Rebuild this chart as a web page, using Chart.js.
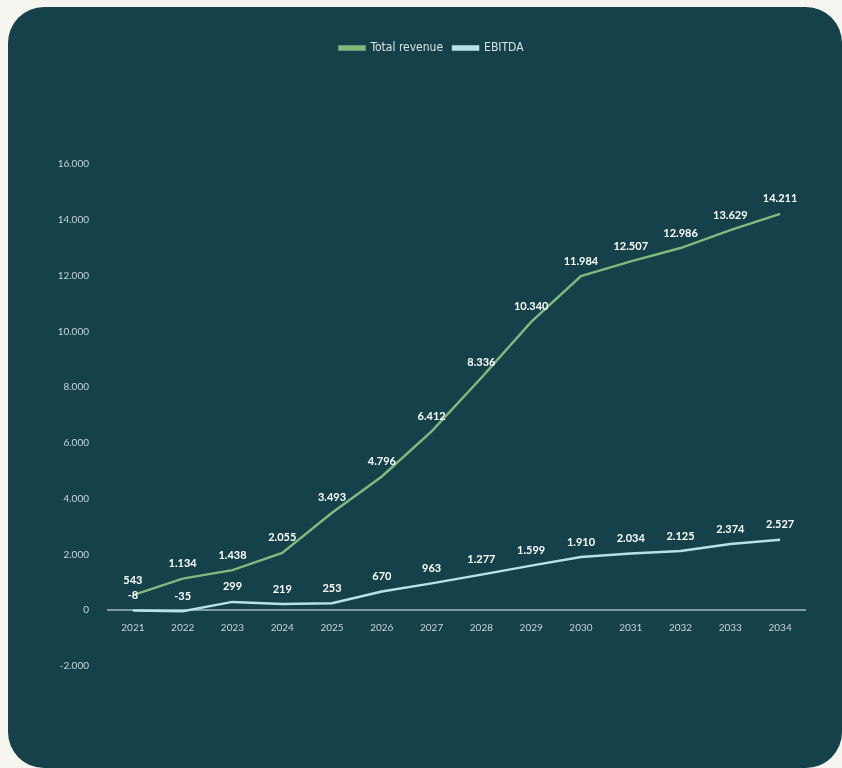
<!DOCTYPE html>
<html>
<head>
<meta charset="utf-8">
<script src="https://cdn.jsdelivr.net/npm/chart.js@4.4.1/dist/chart.umd.min.js"></script>
<style>
  html, body { margin: 0; padding: 0; background: #f6f4ee; }
  body { width: 842px; height: 768px; position: relative; overflow: hidden; }
  #card { position: absolute; left: 8px; top: 7px; width: 834px; height: 761px; background: #15414b; border-radius: 36px; }
  #wrap { position: absolute; left: 0; top: 0; width: 842px; height: 768px; }
</style>
</head>
<body>
<div id="card"></div>
<div id="wrap"><canvas id="lineChart"></canvas></div>
<script>
var years = ['2021', '2022', '2023', '2024', '2025', '2026', '2027', '2028', '2029', '2030', '2031', '2032', '2033', '2034'];
var totalRevenue = [543, 1134, 1438, 2055, 3493, 4796, 6412, 8336, 10340, 11984, 12507, 12986, 13629, 14211];
var ebitda = [-8, -35, 299, 219, 253, 670, 963, 1277, 1599, 1910, 2034, 2125, 2374, 2527];

function fmt(v) {
    var s = String(Math.abs(v)).replace(/\B(?=(\d{3})+(?!\d))/g, '.');
    return (v < 0 ? '-' : '') + s;
}

// push the plot down below the legend
var legendGap = {
    id: 'legendGap',
    beforeInit: function (chart) {
        var orig = chart.legend.fit;
        chart.legend.fit = function () {
            orig.bind(chart.legend)();
            this.height += 100;
        };
    }
};

// value labels above each point
var valueLabels = {
    id: 'valueLabels',
    afterDatasetsDraw: function (chart) {
        var ctx = chart.ctx;
        ctx.save();
        ctx.font = 'bold 11px Lato, "Open Sans", sans-serif';
        ctx.fillStyle = '#ffffff';
        ctx.textAlign = 'center';
        ctx.textBaseline = 'middle';
        chart.data.datasets.forEach(function (ds, i) {
            var meta = chart.getDatasetMeta(i);
            meta.data.forEach(function (pt, j) {
                ctx.fillText(fmt(ds.data[j]), pt.x, pt.y - 15);
            });
        });
        ctx.restore();
    }
};

var lineChart = new Chart('lineChart', {
    type: 'line',
    data: {
        labels: years,
        datasets: [{
            label: 'Total revenue',
            data: totalRevenue,
            borderColor: '#7fba7c',
            backgroundColor: '#7fba7c',
            borderWidth: 2.5,
            pointRadius: 0,
            tension: 0
        }, {
            label: 'EBITDA',
            data: ebitda,
            borderColor: '#b6e2ee',
            backgroundColor: '#b6e2ee',
            borderWidth: 2.5,
            pointRadius: 0,
            tension: 0
        }]
    },
    options: {
        responsive: true,
        maintainAspectRatio: false,
        animation: false,
        layout: {
            padding: { left: 58, right: 37, top: 32, bottom: 102 }
        },
        scales: {
            x: {
                position: { y: 0 },
                offset: true,
                grid: { display: false },
                border: { display: true, color: '#7f9ca2', width: 2 },
                ticks: {
                    color: '#c9d6d9',
                    padding: 4,
                    maxRotation: 0,
                    font: { family: 'Lato, "Open Sans", sans-serif', size: 10 }
                }
            },
            y: {
                min: -2000,
                max: 16000,
                grid: { display: false },
                border: { display: false },
                afterFit: function (scale) { scale.width = 50; },
                ticks: {
                    stepSize: 2000,
                    color: '#c9d6d9',
                    padding: 11,
                    font: { family: 'Lato, "Open Sans", sans-serif', size: 10 },
                    callback: function (v) { return fmt(v); }
                }
            }
        },
        plugins: {
            legend: {
                labels: {
                    color: '#d6e2e4',
                    boxWidth: 25,
                    boxHeight: 3,
                    padding: 10,
                    font: { family: '"Liberation Sans Narrow", "DejaVu Sans Condensed", sans-serif', size: 12 }
                }
            },
            tooltip: { enabled: false }
        }
    },
    plugins: [legendGap, valueLabels]
});
</script>
</body>
</html>
